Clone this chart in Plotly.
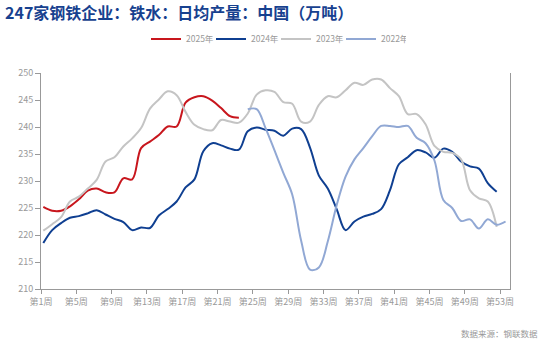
import plotly.graph_objects as go

weeks_2025 = list(range(1, 24))
vals_2025 = [225.2, 224.5, 224.5, 225.3, 226.6, 228.2, 228.6, 227.9, 227.9, 230.5,
             230.3, 236.1, 237.3, 238.5, 240.1, 240.1, 244.5, 245.5, 245.7, 244.9,
             243.5, 242.0, 241.7]

weeks_2024 = list(range(1, 53))
vals_2024 = [218.5, 220.9, 222.2, 223.2, 223.5, 224.0, 224.6, 223.8, 223.0, 222.4,
             220.9, 221.4, 221.3, 223.6, 224.8, 226.2, 228.8, 230.3, 235.5, 237.0,
             236.6, 236.0, 235.8, 239.2, 239.9, 239.5, 239.3, 238.4, 239.7, 239.6,
             236.2, 231.0, 228.6, 224.8, 220.9, 222.5, 223.4, 223.9, 224.8, 228.3,
             233.1, 234.4, 235.7, 235.3, 234.3, 236.0, 235.4, 233.6, 232.7, 232.3,
             229.6, 228.0]

weeks_2023 = list(range(1, 53))
vals_2023 = [220.8, 222.0, 223.3, 226.2, 227.1, 228.6, 230.2, 233.6, 234.4, 236.4,
             237.9, 239.8, 243.4, 245.1, 246.6, 245.9, 242.8, 240.4, 239.6, 239.4,
             241.3, 241.0, 240.8, 242.5, 246.0, 246.8, 246.5, 244.6, 244.3, 241.0,
             241.0, 244.1, 245.7, 245.5, 246.8, 248.2, 247.8, 248.8, 248.8, 247.2,
             245.7, 242.4, 242.4, 240.5, 236.5, 235.4, 235.2, 234.0, 228.3, 226.8,
             226.2, 221.5]

weeks_2022 = list(range(24, 54))
vals_2022 = [243.3, 243.3, 239.8, 235.7, 231.5, 227.5, 219.0, 213.6, 214.0, 218.8,
             225.5, 230.8, 234.0, 236.1, 238.3, 240.2, 240.2, 240.0, 240.2, 238.0,
             237.0, 233.8, 226.5, 225.0, 222.6, 222.9, 221.2, 222.9, 221.9, 222.5]

tick_weeks = [1, 5, 9, 13, 17, 21, 25, 29, 33, 37, 41, 45, 49, 53]
tick_labels = [f"第{w}周" for w in tick_weeks]
y_ticks = [210, 215, 220, 225, 230, 235, 240, 245, 250]

series = [
    ("2025年", weeks_2025, vals_2025, "#c8161d"),
    ("2024年", weeks_2024, vals_2024, "#0f3f91"),
    ("2023年", weeks_2023, vals_2023, "#c4c4c4"),
    ("2022年", weeks_2022, vals_2022, "#91a8d4"),
]

fig = go.Figure()
for name, xs, ys, col in series:
    fig.add_trace(go.Scatter(
        x=xs, y=ys, name=name, mode="lines",
        line=dict(color=col, width=2, shape="spline", smoothing=1),
    ))

# tick positions mapped slightly off the integer weeks (data points sit a bit right of ticks)
tick_pos = [0.74 + (w - 1) * 0.993 for w in tick_weeks]

fig.update_layout(
    width=542, height=346,
    margin=dict(l=41, r=32, t=73, b=57),
    paper_bgcolor="white", plot_bgcolor="white",
    font=dict(family="Noto Sans CJK SC, Roboto, sans-serif", color="#888888", size=10),
    title=dict(
        text="<b>247家钢铁企业：铁水：日均产量：中国（万吨）</b>",
        font=dict(family="Noto Sans CJK SC, sans-serif", size=16, color="#17418f"),
        x=5 / 542, xanchor="left", xref="container",
        y=1 - 13 / 346, yanchor="middle", yref="container",
    ),
    legend=dict(
        orientation="h", x=146 / 542, xref="container", xanchor="left",
        y=1 - 39 / 346, yref="container", yanchor="middle",
        font=dict(size=8.5, color="#999999"),
        entrywidth=20, entrywidthmode="pixels",
        itemwidth=30, tracegroupgap=0,
        bgcolor="rgba(0,0,0,0)",
    ),
    showlegend=True,
    xaxis=dict(
        range=[0.74, 53.5],
        tickvals=tick_pos, ticktext=tick_labels,
        showgrid=False, zeroline=False,
        showline=True, linecolor="#999999", linewidth=1,
        ticks="outside", ticklen=4, tickcolor="#999999",
        tickfont=dict(size=9, color="#999999"),
    ),
    yaxis=dict(
        range=[210, 250],
        tickvals=y_ticks,
        showgrid=False, zeroline=False,
        showline=True, linecolor="#999999", linewidth=1, mirror=True,
        ticks="outside", ticklen=5, tickcolor="#999999",
        tickfont=dict(size=9, color="#999999"),
    ),
    annotations=[dict(
        text="数据来源：钢联数据", xref="paper", yref="paper",
        x=(540 - 41) / 469, y=-(333 - 289) / 216, xanchor="right", yanchor="middle",
        showarrow=False, font=dict(size=8.5, color="#999999"),
    )],
)

fig.write_html("out.html")
